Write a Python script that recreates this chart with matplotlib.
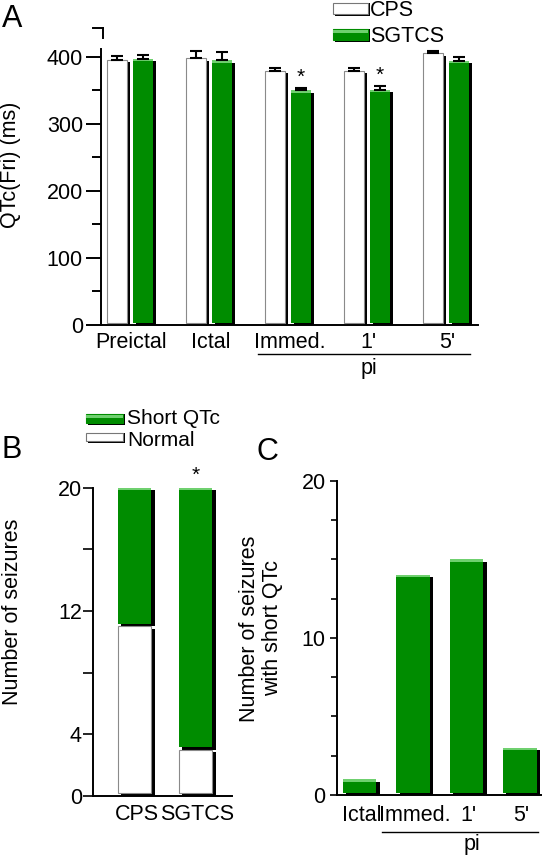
import matplotlib
matplotlib.use("Agg")
import matplotlib.pyplot as plt
from matplotlib.patches import Rectangle
from matplotlib.lines import Line2D

plt.rcParams['font.family'] = ['Liberation Sans', 'DejaVu Sans']

# ---------------- data ----------------
a_groups = ["Preictal", "Ictal", "Immed.", "1'", "5'"]
a_cps = [396, 398, 379, 379, 405]
a_cps_err = [5, 11, 5, 5, 4]
a_sgtcs = [397, 395, 350, 351, 394]
a_sgtcs_err = [6, 12, 3, 5, 5]
a_sig = [False, False, True, True, False]

b_groups = ["CPS", "SGTCS"]
b_normal = [11, 3]
b_short = [9, 17]

c_groups = ["Ictal", "Immed.", "1'", "5'"]
c_short = [1, 14, 15, 3]

GREEN = '#008c00'
HI = '#6fd06f'
FS = 15.5
W, H = 542, 861

fig = plt.figure(figsize=(W / 100, H / 100), dpi=100)


def px_scales(ax):
    pos = ax.get_position()
    x0, x1 = ax.get_xlim()
    y0, y1 = ax.get_ylim()
    return (x1 - x0) / (pos.width * W), (y1 - y0) / (pos.height * H)


def bar3d(ax, x, h, w, bottom=0, face='white', edge=None, hi=None, sx=3.5, sy=2.5):
    dxu, dyu = px_scales(ax)
    dx, dy = sx * dxu, sy * dyu
    fw = w - dx
    fx = x - dx / 2
    ax.bar(fx + dx, h - dy, width=fw, bottom=bottom, color='black', lw=0, zorder=2)
    ax.bar(fx, h - dy, width=fw, bottom=bottom + dy, color=face,
           edgecolor=edge if edge else face, lw=0.8 if edge else 0, zorder=3)
    if hi:
        ax.bar(fx, 2.5 * dyu, width=fw, bottom=bottom + h - 2.5 * dyu, color=hi, lw=0, zorder=4)


def style_axes(ax):
    for s in ['top', 'right']:
        ax.spines[s].set_visible(False)
    for s in ['left', 'bottom']:
        ax.spines[s].set_linewidth(1.4)


# ---------------- Panel A ----------------
axA = fig.add_axes([101 / W, 1 - 325 / H, (478 - 101) / W, (325 - 28) / H])
axA.set_xlim(-0.386, 4.386)
axA.set_ylim(0, 443)
style_axes(axA)
axA.spines['left'].set_bounds(0, 412)
xs = list(range(len(a_groups)))
off = 0.165
bw = 0.30
for i in xs:
    bar3d(axA, i - off, a_cps[i], bw, face='white', edge='#8a8a8a')
    bar3d(axA, i + off, a_sgtcs[i], bw, face=GREEN, hi=HI)
dxu, _ = px_scales(axA)
axA.errorbar([i - off - 1.75 * dxu for i in xs], a_cps, yerr=[[0] * 5, a_cps_err],
             fmt='none', ecolor='black', elinewidth=1.5, capsize=4.5, capthick=1.5, zorder=5)
axA.errorbar([i + off - 1.75 * dxu for i in xs], a_sgtcs, yerr=[[0] * 5, a_sgtcs_err],
             fmt='none', ecolor='black', elinewidth=1.5, capsize=4.5, capthick=1.5, zorder=5)
for i in xs:
    if a_sig[i]:
        axA.text(i + off - 1.75 * dxu, a_sgtcs[i] + a_sgtcs_err[i] + 2, '*',
                 ha='center', va='bottom', fontsize=15)
axA.set_yticks([0, 100, 200, 300, 400])
axA.set_yticks(range(0, 401, 50), minor=True)
axA.tick_params(axis='y', which='major', length=11, width=1.4, labelsize=FS, pad=2)
axA.tick_params(axis='y', which='minor', length=6.5, width=1.4)
axA.set_xticks(xs)
axA.set_xticklabels(a_groups)
axA.tick_params(axis='x', length=0, labelsize=FS, pad=5)
axA.set_ylabel("QTc(Fri) (ms)", fontsize=FS)
axA.yaxis.set_label_coords(-0.212, 0.54)
# top hook of y axis
ty = axA.get_yaxis_transform()
axA.add_line(Line2D([0.004, 0.004], [428, 443], transform=ty, color='black', lw=1.4, clip_on=False))
axA.add_line(Line2D([-0.02, 0.004], [443, 443], transform=ty, color='black', lw=1.4, clip_on=False))
# pi underline
bt = axA.get_xaxis_transform()
axA.add_line(Line2D([1.6, 4.285], [-0.0976, -0.0976], transform=bt, color='black', lw=1.0, clip_on=False))
axA.text(3.0, -0.145, 'pi', transform=bt, ha='center', va='center', fontsize=FS)


# legend patches
def leg_patch(x, y, w, h, face, hi=None):
    fig.add_artist(Rectangle(((x + 2) / W, 1 - (y + h) / H), w / W, h / H,
                             transform=fig.transFigure, color='black', lw=0))
    fig.add_artist(Rectangle((x / W, 1 - (y + h - 2) / H), w / W, (h - 2) / H,
                             transform=fig.transFigure, facecolor=face,
                             edgecolor='#777777' if face == 'white' else face, lw=0.8))
    if hi:
        fig.add_artist(Rectangle((x / W, 1 - (y + 4) / H), w / W, 3 / H,
                                 transform=fig.transFigure, color=hi, lw=0))


leg_patch(333, 3, 35, 13, 'white')
leg_patch(333, 29, 35, 13, GREEN, HI)
fig.text(370 / W, 1 - 10 / H, 'CPS', fontsize=FS, va='center', ha='left')
fig.text(370 / W, 1 - 36 / H, 'SGTCS', fontsize=FS, va='center', ha='left')

fig.text(2 / W, 1 - 27 / H, 'A', fontsize=22, va='baseline', ha='left')
fig.text(2 / W, 1 - 458 / H, 'B', fontsize=22, va='baseline', ha='left')
fig.text(256 / W, 1 - 460 / H, 'C', fontsize=22, va='baseline', ha='left')

# ---------------- Panel B ----------------
axB = fig.add_axes([93 / W, 1 - 795.7 / H, (232 - 93) / W, (795.7 - 487.7) / H])
axB.set_xlim(-0.713, 1.566)
axB.set_ylim(0, 20)
style_axes(axB)
bx = list(range(len(b_groups)))
for i in bx:
    bar3d(axB, i, b_normal[i], 0.607, bottom=0, face='white', edge='#8a8a8a')
    bar3d(axB, i, b_short[i], 0.607, bottom=b_normal[i], face=GREEN, hi=HI)
dxuB, _ = px_scales(axB)
axB.text(1 - 1.75 * dxuB, 20.2, '*', ha='center', va='bottom', fontsize=15)
axB.set_yticks([0, 4, 8, 12, 16, 20])
axB.set_yticklabels(['0', '4', '', '12', '', '20'])
axB.tick_params(axis='y', length=7, width=1.2, labelsize=FS, pad=1)
axB.set_xticks(bx)
axB.set_xticklabels(b_groups)
axB.tick_params(axis='x', length=0, labelsize=FS, pad=6)
axB.set_ylabel("Number of seizures", fontsize=FS)
axB.yaxis.set_label_coords(-0.504, 0.596)

leg_patch(86, 414, 37, 11, GREEN, HI)
leg_patch(86, 433, 37, 10, 'white')
fig.text(127 / W, 1 - 419 / H, 'Short QTc', fontsize=15, va='center', ha='left')
fig.text(127 / W, 1 - 441 / H, 'Normal', fontsize=15, va='center', ha='left')

# ---------------- Panel C ----------------
axC = fig.add_axes([336.7 / W, 1 - 795 / H, (541 - 336.7) / W, (795 - 480.7) / H])
axC.set_xlim(-0.46, 3.365)
axC.set_ylim(0, 20)
style_axes(axC)
cx = list(range(len(c_groups)))
for i in cx:
    bar3d(axC, i, c_short[i], 0.693, face=GREEN, hi=HI)
axC.set_yticks([0, 10, 20])
axC.set_yticks([v * 2.5 for v in range(9)], minor=True)
axC.tick_params(axis='y', which='major', length=5, width=1.2, labelsize=FS, pad=3)
axC.tick_params(axis='y', which='minor', length=4, width=1.2)
axC.set_xticks(cx)
axC.set_xticklabels(c_groups)
axC.tick_params(axis='x', length=0, labelsize=FS, pad=7)
axC.set_ylabel("Number of seizures\nwith short QTc", fontsize=FS, linespacing=1.1)
axC.yaxis.set_label_coords(-0.265, 0.53)
ct = axC.get_xaxis_transform()
axC.add_line(Line2D([0.39, 3.31], [-0.118, -0.118], transform=ct, color='black', lw=1.0, clip_on=False))
axC.text(2.07, -0.159, 'pi', transform=ct, ha='center', va='center', fontsize=FS)

fig.savefig('out.png', dpi=100)
